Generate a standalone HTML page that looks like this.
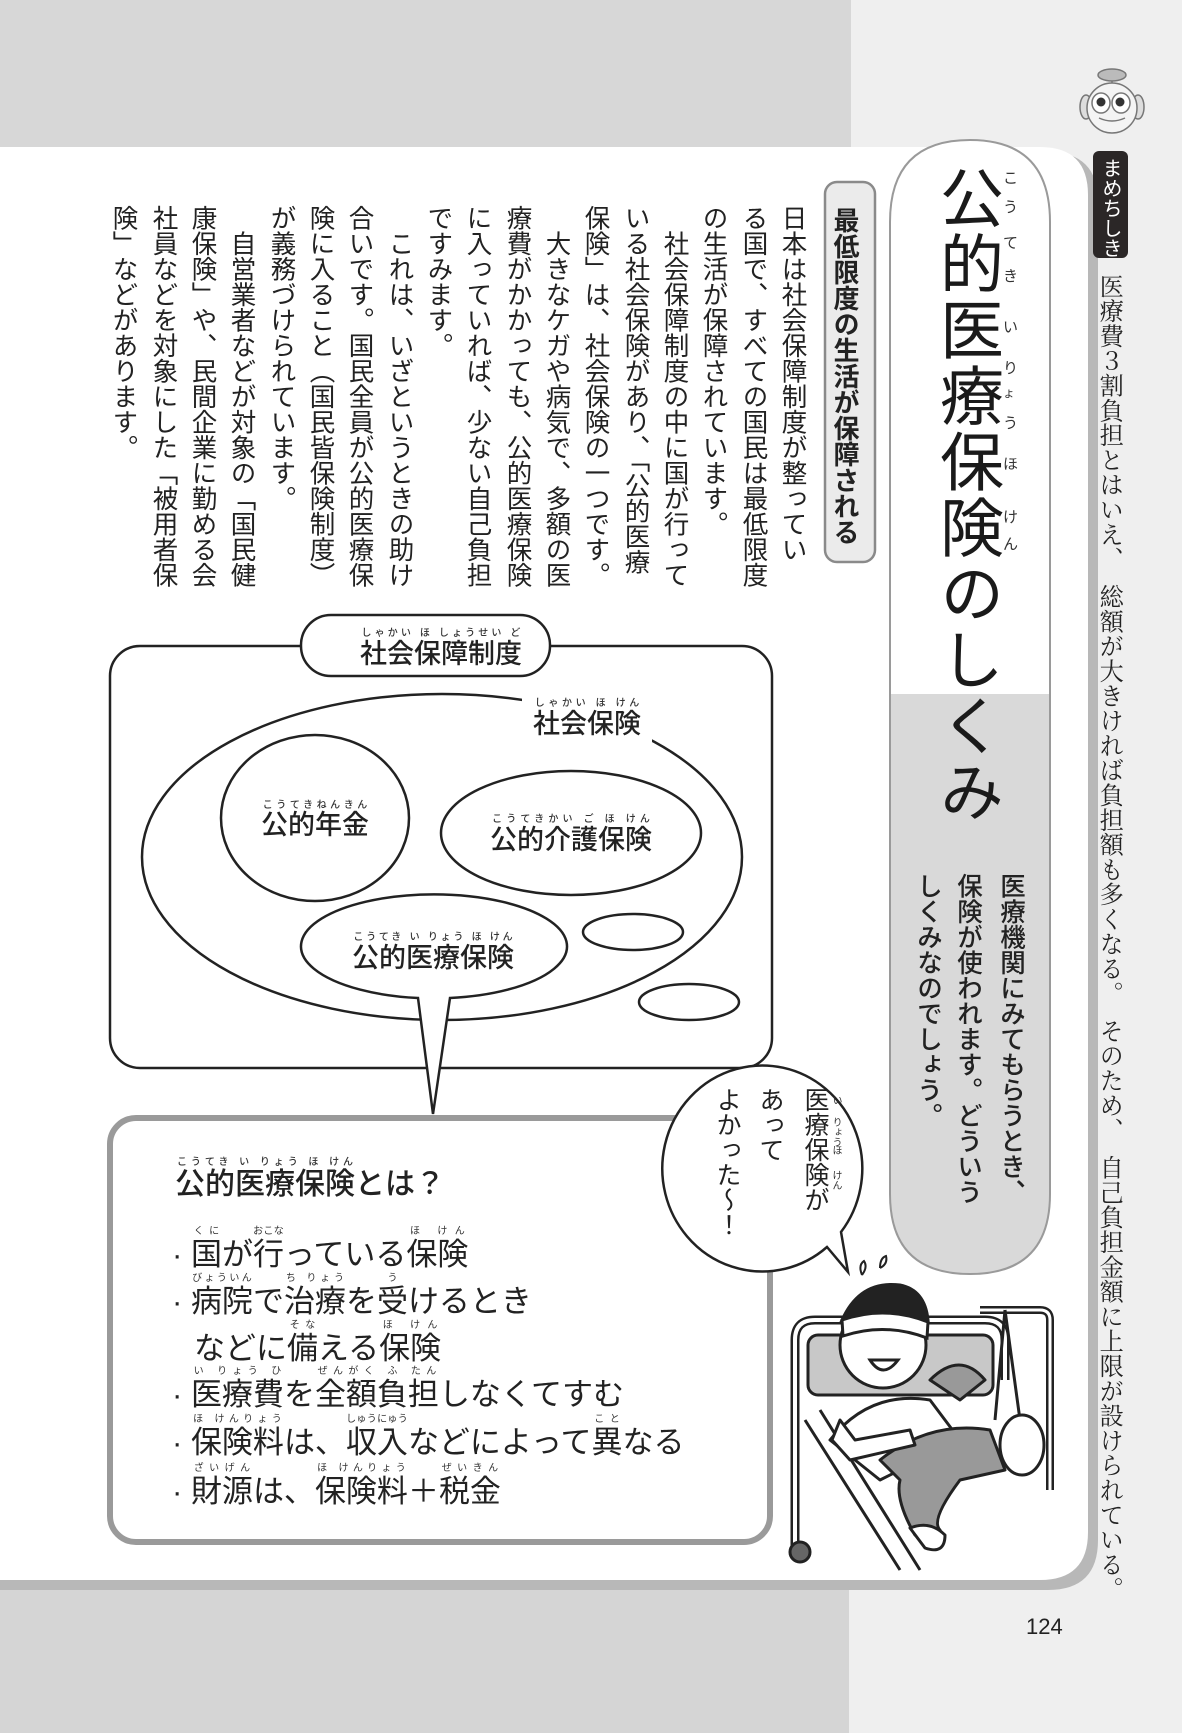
<!DOCTYPE html>
<html><head><meta charset="utf-8">
<style>
html,body{margin:0;padding:0;}
body{width:1182px;height:1733px;position:relative;overflow:hidden;background:#efefef;font-family:"Liberation Sans","Noto Sans CJK JP",sans-serif;color:#222;}
.v{position:absolute;writing-mode:vertical-rl;white-space:nowrap;line-height:1;}
.b{font-size:25.5px;width:26px;}
.h{position:absolute;white-space:nowrap;line-height:1;}
rt{font-size:10px;color:#333;}
.k{position:absolute;font-size:15px;line-height:1;color:#333;}
</style></head><body>
<svg width="1182" height="1733" style="position:absolute;left:0;top:0">
  <rect x="0" y="0" width="851" height="148" fill="#d7d7d7"/>
  <rect x="0" y="1582" width="849" height="151" fill="#d5d5d5"/>
  <path d="M0 152 H1048 Q1098 152 1098 202 V1540 Q1098 1590 1048 1590 H0 Z" fill="#b8b8b8"/>
  <path d="M0 147 H1040 Q1088 147 1088 195 V1532 Q1088 1580 1040 1580 H0 Z" fill="#ffffff"/>
  <path d="M890 1274 V222 Q890 140 970 140 Q1050 140 1050 222 V1274 Z" fill="#ffffff"/>
  <path d="M890 694 H1050 V1194 Q1050 1274 970 1274 Q890 1274 890 1194 Z" fill="#d9d9d9"/>
  <path d="M890 1194 V222 Q890 140 970 140 Q1050 140 1050 222 V1194 Q1050 1274 970 1274 Q890 1274 890 1194 Z" fill="none" stroke="#9a9a9a" stroke-width="2"/>
  <rect x="825" y="182" width="50" height="380" rx="12" fill="#ebebeb" stroke="#8a8a8a" stroke-width="2.5"/>
  <rect x="1093" y="151" width="35" height="107" rx="6" fill="#2b2727"/>
  <g stroke="#777" stroke-width="1.5" fill="#f4f4f4">
    <ellipse cx="1112" cy="75" rx="14" ry="6" fill="#bbb"/>
    <line x1="1112" y1="81" x2="1112" y2="86"/>
    <ellipse cx="1086" cy="107" rx="6" ry="12" fill="#ddd"/>
    <ellipse cx="1138" cy="107" rx="6" ry="12" fill="#ddd"/>
    <circle cx="1112" cy="108" r="25"/>
    <ellipse cx="1101" cy="103" rx="9" ry="10" fill="#fff"/>
    <ellipse cx="1121" cy="103" rx="9" ry="10" fill="#fff"/>
  </g>
  <circle cx="1101" cy="102" r="4.5" fill="#333"/><circle cx="1120" cy="102" r="4.5" fill="#333"/>
  <path d="M1099 118 Q1112 124 1125 118" stroke="#777" stroke-width="1.5" fill="none"/>
  <g stroke="#222" stroke-width="2.5" fill="none">
    <rect x="110" y="646" width="662" height="422" rx="30" fill="#fff"/>
    <rect x="301" y="615" width="249" height="61" rx="30" fill="#fff"/>
    <ellipse cx="442" cy="857" rx="300" ry="163"/>
    <rect x="522" y="684" width="130" height="58" fill="#fff" stroke="none"/>
    <ellipse cx="315" cy="818" rx="94" ry="83" fill="#fff"/>
    <ellipse cx="571" cy="833" rx="130" ry="62" fill="#fff"/>
    <ellipse cx="633" cy="932" rx="50" ry="18" fill="#fff"/>
    <ellipse cx="689" cy="1002" rx="50" ry="18" fill="#fff"/>
    <path d="M418 997 A133 52 0 1 1 450 997 L433 1114 Z" fill="#fff" stroke="none"/>
    <path d="M418 998 A133 52 0 1 1 450 998 L433 1114 Z" fill="none"/>
  </g>
  <rect x="110" y="1118" width="660" height="424" rx="26" fill="#fff" stroke="#9a9a9a" stroke-width="6"/>
  <!-- speech bubble -->
  <path d="M827 1247 A100 103 0 1 1 841 1232 L848 1272 Z" fill="#fff" stroke="#222" stroke-width="2.5"/>
  <g stroke="#222" stroke-width="3" stroke-linejoin="round">
    <path d="M795 1552 V1340 Q795 1320 815 1320 H985 Q1005 1320 1005 1340 V1380" fill="none" stroke-width="9" stroke="#222"/>
    <path d="M795 1552 V1340 Q795 1320 815 1320 H985 Q1005 1320 1005 1340 V1380" fill="none" stroke-width="4" stroke="#fff"/>
    <rect x="808" y="1335" width="185" height="60" rx="10" fill="#c8c8c8"/>
    <path d="M980 1310 H1040 Q1050 1310 1050 1320 V1490" fill="none" stroke-width="8"/>
    <path d="M980 1310 H1040 Q1050 1310 1050 1320 V1490" fill="none" stroke-width="3" stroke="#fff"/>
    <path d="M1005 1310 L995 1420 M1005 1310 L1020 1420" fill="none"/>
    <path d="M805 1420 L900 1570 M820 1410 L920 1570" fill="none"/>
    <path d="M830 1440 Q870 1390 930 1400 L960 1440 L880 1480 Z" fill="#fff"/>
    <path d="M930 1380 Q960 1350 985 1380 L960 1400 Z" fill="#999"/>
    <path d="M880 1460 Q930 1420 990 1430 L1005 1470 L960 1480 Q930 1520 940 1530 L915 1535 Q895 1500 900 1480 Z" fill="#999"/>
    <path d="M840 1420 L855 1440 L910 1430 L915 1445 L850 1460 L832 1440 Z" fill="#fff"/>
    <ellipse cx="1022" cy="1445" rx="22" ry="30" fill="#fff"/>
    <path d="M910 1528 Q930 1520 945 1535 Q945 1555 925 1548 Z" fill="#fff"/>
    <circle cx="800" cy="1552" r="10" fill="#666"/>
  </g>
  <g stroke="#222" stroke-width="3">
    <circle cx="883" cy="1345" r="43" fill="#fff"/>
    <path d="M842 1320 Q860 1280 900 1285 Q925 1290 928 1320 Q900 1305 842 1320 Z" fill="#222"/>
    <path d="M842 1320 Q885 1305 928 1322 L927 1338 Q885 1322 843 1336 Z" fill="#fff"/>
    <path d="M870 1360 Q883 1380 898 1360 Z" fill="#fff"/>
    <path d="M862 1275 q-4 -10 2 -14 q4 6 -2 14 M880 1268 q0 -10 6 -12 q2 8 -6 12" fill="none" stroke-width="2"/>
  </g>
</svg>

<div class="v" style="left:935px;top:165px;font-size:64px;letter-spacing:2px;font-weight:normal;color:#1a1a1a;">公的医療保険のしくみ</div>
<div class="k" style="left:1003px;top:171px">こ</div>
<div class="k" style="left:1003px;top:200px">う</div>
<div class="k" style="left:1003px;top:236px">て</div>
<div class="k" style="left:1003px;top:269px">き</div>
<div class="k" style="left:1003px;top:320px">い</div>
<div class="k" style="left:1003px;top:361px">り</div>
<div class="k" style="left:1003px;top:387px;font-size:12px">ょ</div>
<div class="k" style="left:1003px;top:416px">う</div>
<div class="k" style="left:1003px;top:457px">ほ</div>
<div class="k" style="left:1003px;top:510px">け</div>
<div class="k" style="left:1003px;top:537px">ん</div>

<div class="v" style="left:997px;top:873px;font-size:25.5px;font-weight:500;">医療機関にみてもらうとき、</div>
<div class="v" style="left:954px;top:873px;font-size:25.5px;font-weight:500;">保険が使われます。どういう</div>
<div class="v" style="left:914px;top:873px;font-size:25.5px;font-weight:500;">しくみなのでしょう。</div>

<div class="v" style="left:832px;top:207px;font-size:26px;font-weight:bold;">最低限度の生活が保障される</div>

<div class="v" style="left:1100px;top:158px;font-size:20px;color:#fff;">まめちしき</div>
<div class="v" style="left:1096px;top:274px;font-size:24.2px;letter-spacing:0.6px;font-family:'Liberation Serif','Noto Serif CJK SC',serif;">医療費３割負担とはいえ、　総額が大きければ負担額も多くなる。　そのため、　自己負担金額に上限が設けられている。</div>

<div class="v b" style="left:778px;top:205px">日本は社会保障制度が整ってい</div>
<div class="v b" style="left:739px;top:205px">る国で、すべての国民は最低限度</div>
<div class="v b" style="left:699px;top:205px">の生活が保障されています。</div>
<div class="v b" style="left:660px;top:205px">　社会保障制度の中に国が行って</div>
<div class="v b" style="left:621px;top:205px">いる社会保険があり、「公的医療</div>
<div class="v b" style="left:581px;top:205px">保険」は、社会保険の一つです。</div>
<div class="v b" style="left:542px;top:205px">　大きなケガや病気で、多額の医</div>
<div class="v b" style="left:503px;top:205px">療費がかかっても、公的医療保険</div>
<div class="v b" style="left:463px;top:205px">に入っていれば、少ない自己負担</div>
<div class="v b" style="left:424px;top:205px">ですみます。</div>
<div class="v b" style="left:385px;top:205px">　これは、いざというときの助け</div>
<div class="v b" style="left:345px;top:205px">合いです。国民全員が公的医療保</div>
<div class="v b" style="left:306px;top:205px">険に入ること（国民皆保険制度）</div>
<div class="v b" style="left:267px;top:205px">が義務づけられています。</div>
<div class="v b" style="left:227px;top:205px">　自営業者などが対象の「国民健</div>
<div class="v b" style="left:188px;top:205px">康保険」や、民間企業に勤める会</div>
<div class="v b" style="left:149px;top:205px">社員などを対象にした「被用者保</div>
<div class="v b" style="left:109px;top:205px">険」などがあります。</div>

<div class="h" style="left:360px;top:628px;font-size:27px;font-weight:500;"><ruby>社会保障制度<rt>しゃかい ほ しょうせい ど</rt></ruby></div>
<div class="h" style="left:533px;top:698px;font-size:27px;font-weight:500;"><ruby>社会保険<rt>しゃかい ほ けん</rt></ruby></div>
<div class="h" style="left:261px;top:800px;font-size:27px;font-weight:500;"><ruby>公的年金<rt>こうてきねんきん</rt></ruby></div>
<div class="h" style="left:490px;top:814px;font-size:27px;font-weight:500;"><ruby>公的介護保険<rt>こうてきかい ご ほ けん</rt></ruby></div>
<div class="h" style="left:352px;top:932px;font-size:27px;font-weight:500;"><ruby>公的医療保険<rt>こうてき い りょう ほ けん</rt></ruby></div>

<div class="h" style="left:175px;top:1157px;font-size:30px;font-weight:500;"><ruby>公的医療保険<rt>こうてき い りょう ほ けん</rt></ruby>とは？</div>
<div class="h" style="left:172px;top:1226px;font-size:31px;">·&nbsp;<ruby>国<rt>くに</rt></ruby>が<ruby>行<rt>おこな</rt></ruby>っている<ruby>保険<rt>ほ けん</rt></ruby></div>
<div class="h" style="left:172px;top:1273px;font-size:31px;">·&nbsp;<ruby>病院<rt>びょういん</rt></ruby>で<ruby>治療<rt>ち りょう</rt></ruby>を<ruby>受<rt>う</rt></ruby>けるとき</div>
<div class="h" style="left:194px;top:1320px;font-size:31px;">などに<ruby>備<rt>そな</rt></ruby>える<ruby>保険<rt>ほ けん</rt></ruby></div>
<div class="h" style="left:172px;top:1366px;font-size:31px;">·&nbsp;<ruby>医療費<rt>い りょう ひ</rt></ruby>を<ruby>全額負担<rt>ぜんがく ふ たん</rt></ruby>しなくてすむ</div>
<div class="h" style="left:172px;top:1414px;font-size:31px;">·&nbsp;<ruby>保険料<rt>ほ けんりょう</rt></ruby>は、<ruby>収入<rt>しゅうにゅう</rt></ruby>などによって<ruby>異<rt>こと</rt></ruby>なる</div>
<div class="h" style="left:172px;top:1463px;font-size:31px;">·&nbsp;<ruby>財源<rt>ざいげん</rt></ruby>は、<ruby>保険料<rt>ほ けんりょう</rt></ruby>＋<ruby>税金<rt>ぜいきん</rt></ruby></div>

<div class="v" style="left:802px;top:1087px;font-size:25px;">医療保険が</div>
<div class="k" style="left:830px;top:1095px;font-size:10px;writing-mode:vertical-rl">い</div>
<div class="k" style="left:830px;top:1117px;font-size:10px;writing-mode:vertical-rl">りょう</div>
<div class="k" style="left:830px;top:1145px;font-size:10px;writing-mode:vertical-rl">ほ</div>
<div class="k" style="left:830px;top:1170px;font-size:10px;writing-mode:vertical-rl">けん</div>
<div class="v" style="left:757px;top:1087px;font-size:25px;">あって</div>
<div class="v" style="left:714px;top:1087px;font-size:25px;">よかった〜！</div>

<div class="h" style="left:1026px;top:1616px;font-size:22px;">124</div>
</body></html>
